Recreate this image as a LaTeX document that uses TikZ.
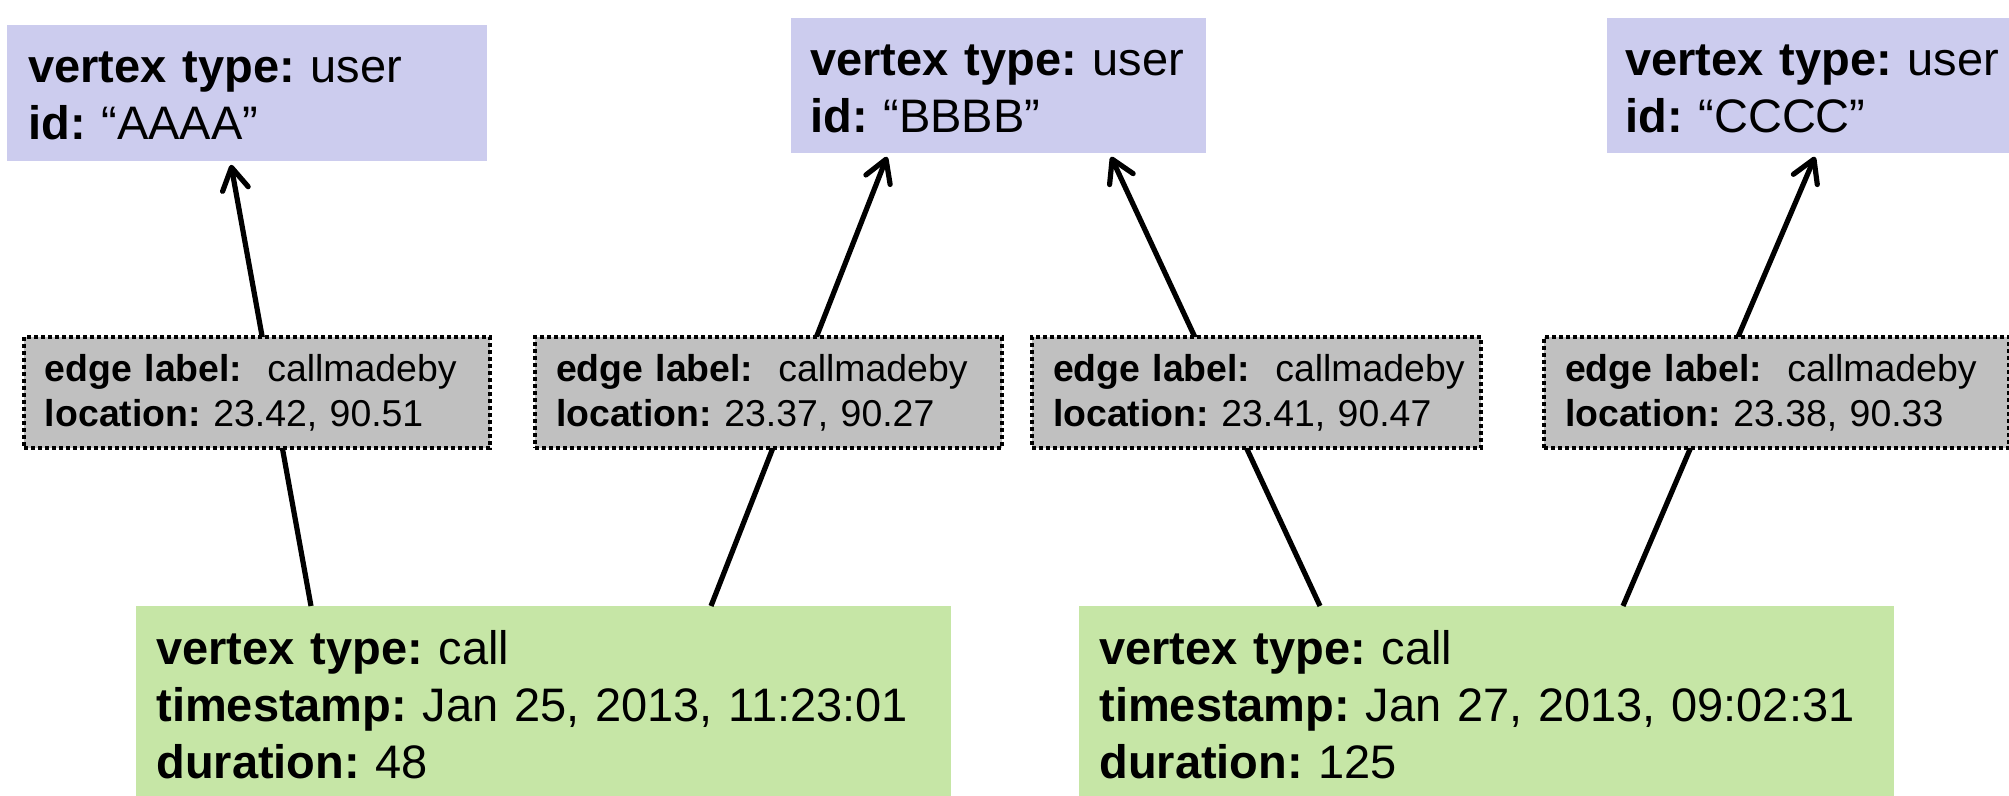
\documentclass[tikz,border=0pt]{standalone}
\usepackage{fontspec}
\setmainfont{Liberation Sans}
\usetikzlibrary{arrows.meta,calc}
\definecolor{userfill}{HTML}{CCCCEE}
\definecolor{callfill}{HTML}{C6E6A6}
\definecolor{edgefill}{HTML}{C0C0C0}
\newcommand\oneline[1]{\mbox{#1}}
\begin{document}
\begin{tikzpicture}[x=0.5pt,y=-0.5pt,
  every node/.append style={execute at begin node={\frenchspacing}},
  bigtext/.style={font=\fontsize{23.5}{28.5}\selectfont},
  smalltext/.style={font=\fontsize{18.7}{22.5}\selectfont},
  userbox/.style={anchor=north west, inner ysep=0pt, align=left, fill=userfill, bigtext,
    text height=28.5pt, text depth=39pt},
  callbox/.style={anchor=north west, inner ysep=0pt, inner xsep=10pt, align=left, fill=callfill, bigtext,
    text width=387.5pt, text height=29pt, text depth=66pt},
  edgebox/.style={anchor=north west, inner ysep=0pt, inner xsep=10.5pt, align=left, fill=edgefill, smalltext,
    draw=black, line width=2pt, dash pattern=on 2pt off 1.5pt,
    text height=22.5pt, text depth=33pt},
  conn/.style={line width=2.6pt, -{Straight Barb[length=11pt,width=13pt,line cap=round,line join=round]}},
]
\useasboundingbox (0,0) rectangle (2009,796);

% user vertices
\node[userbox, inner xsep=10.5pt, text width=219pt, text height=28.5pt, text depth=39.5pt] (user1) at (7,25)
  {\oneline{\textbf{vertex type:} user}\\\oneline{\textbf{id:} “AAAA”}};
\node[userbox, inner xsep=9.5pt, text width=188.5pt] (user2) at (791,18)
  {\oneline{\textbf{vertex type:} user}\\\oneline{\textbf{id:} “BBBB”}};
\node[userbox, inner xsep=9pt, text width=190pt] (user3) at (1607,18)
  {\oneline{\textbf{vertex type:} user}\\\oneline{\textbf{id:} “CCCC”}};

% call vertices
\node[callbox] (call1) at (136,606)
  {\textbf{vertex type:} call\\\textbf{timestamp:} Jan 25, 2013, 11:23:01\\\textbf{duration:} 48};
\node[callbox] (call2) at (1079,606)
  {\textbf{vertex type:} call\\\textbf{timestamp:} Jan 27, 2013, 09:02:31\\\textbf{duration:} 125};

% connector end points
\coordinate (s1) at ($(call1.north west)+(175,0)$);
\coordinate (t1) at ($(user1.south west)+(224,3)$);
\coordinate (s2) at ($(call1.north west)+(575,0)$);
\coordinate (t2) at ($(user2.south west)+(96,3)$);
\coordinate (s3) at ($(call2.north west)+(241,0)$);
\coordinate (t3) at ($(user2.south west)+(320,3)$);
\coordinate (s4) at ($(call2.north west)+(544,0)$);
\coordinate (t4) at ($(user3.south west)+(208,3)$);

\draw[conn] (s1) -- (t1);
\draw[conn] (s2) -- (t2);
\draw[conn] (s3) -- (t3);
\draw[conn] (s4) -- (t4);

% edge labels (drawn over the connectors)
\node[edgebox, text width=212pt] (edge1) at (22,335)
  {\oneline{\textbf{edge label:}\ \ callmadeby}\\\oneline{\textbf{location:} 23.42, 90.51}};
\node[edgebox, text width=212.5pt] (edge2) at (533,335)
  {\oneline{\textbf{edge label:}\ \ callmadeby}\\\oneline{\textbf{location:} 23.37, 90.27}};
\node[edgebox, text width=203.5pt] (edge3) at (1030,335)
  {\oneline{\textbf{edge label:}\ \ callmadeby}\\\oneline{\textbf{location:} 23.41, 90.47}};
\node[edgebox, text width=211.5pt] (edge4) at (1542,335)
  {\oneline{\textbf{edge label:}\ \ callmadeby}\\\oneline{\textbf{location:} 23.38, 90.33}};
\end{tikzpicture}
\end{document}
